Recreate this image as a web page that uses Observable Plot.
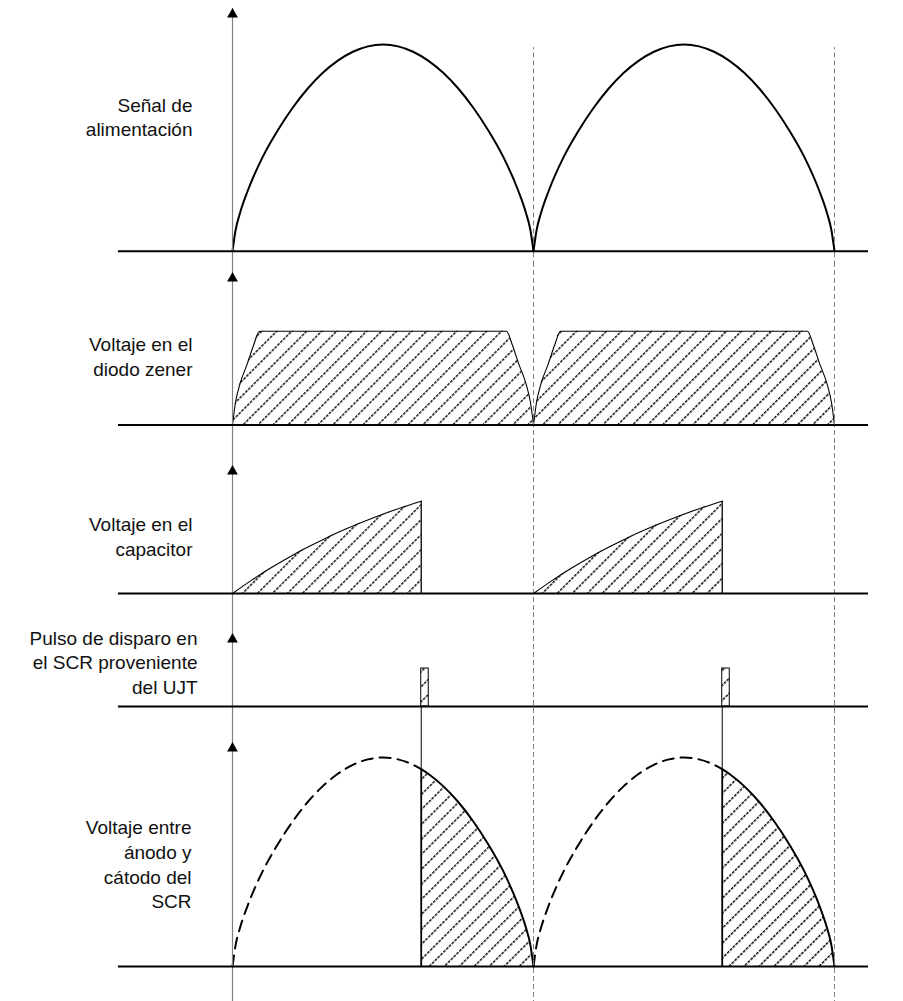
<!DOCTYPE html>
<html><head><meta charset="utf-8">
<script src="https://cdn.jsdelivr.net/npm/d3@7"></script>
<script src="https://cdn.jsdelivr.net/npm/@observablehq/plot@0.6"></script>
<style>
html,body{margin:0;padding:0;background:#fff;}
#chart svg{display:block;}
</style></head>
<body>
<svg width="0" height="0" style="position:absolute">
<defs>
<pattern id="hatch" patternUnits="userSpaceOnUse" width="10.6" height="4" patternTransform="rotate(45)">
<rect x="0" y="0" width="1.45" height="2.8" fill="#000"/>
</pattern>
</defs></svg>
<div id="chart"></div>
<script>
// ---- data (x in half-periods of the supply, y normalised per panel) ----
const cycles = [0, 1];
const labels = [
  "Señal de\nalimentación",
  "Voltaje en el\ndiodo zener",
  "Voltaje en el\ncapacitor",
  "Pulso de disparo en\nel SCR proveniente\ndel UJT",
  "Voltaje entre\nánodo y\ncátodo del\nSCR"
];
// rectified supply half-wave
const arcT = [0, 0.01, 0.025, 0.05, 0.1, 0.15, 0.2, 0.25, 0.3, 0.35, 0.4, 0.45, 0.5, 0.55, 0.6, 0.65, 0.7, 0.75, 0.8, 0.85, 0.9, 0.95, 0.975, 0.99, 1];
const arcV = [0, 0.1, 0.185, 0.29, 0.455, 0.584, 0.694, 0.787, 0.863, 0.922, 0.965, 0.991, 1, 0.991, 0.965, 0.922, 0.863, 0.787, 0.694, 0.584, 0.455, 0.29, 0.185, 0.1, 0];
// zener clamped voltage
const zenerT = [0, 0.01, 0.025, 0.05, 0.07, 0.09, 0.91, 0.93, 0.95, 0.975, 0.99, 1];
const zenerV = [0, 0.24, 0.44, 0.66, 0.85, 1, 1, 0.85, 0.66, 0.44, 0.24, 0];
// firing point
const firing = 0.627;
// capacitor charge (t as fraction of the charging interval 0..firing)
const capF = [0, 0.1, 0.2, 0.3, 0.4, 0.5, 0.6, 0.7, 0.8, 0.9, 1];
const capV = [0, 0.142, 0.273, 0.393, 0.503, 0.605, 0.698, 0.783, 0.862, 0.934, 1];
// trigger pulse
const pulseWidth = 0.025;
// SCR anode-cathode voltage: blocked part (dashed) and conducting part (hatched)
const scrOffT = [0, 0.01, 0.025, 0.05, 0.1, 0.15, 0.2, 0.25, 0.3, 0.35, 0.4, 0.45, 0.5, 0.55, 0.6, 0.627];
const scrOffV = [0, 0.1, 0.185, 0.29, 0.455, 0.584, 0.694, 0.787, 0.863, 0.922, 0.965, 0.991, 1, 0.991, 0.965, 0.944];
const scrOnT = [0.627, 0.65, 0.7, 0.75, 0.8, 0.85, 0.9, 0.95, 0.975, 0.99, 1];
const scrOnV = [0.944, 0.922, 0.863, 0.787, 0.694, 0.584, 0.455, 0.29, 0.185, 0.1, 0];

// ---- tables built from the arrays ----
const build = (T, V) => cycles.flatMap(c => T.map((t, i) => ({c, x: c + t, y: V[i]})));
const supply = build(arcT, arcV);
const zener = build(zenerT, zenerV);
const cap = build(capF.map(f => f * firing), capV);
const scrOff = build(scrOffT, scrOffV);
const scrOn = build(scrOnT, scrOnV);
const pulses = cycles.map(c => ({x1: c + firing, x2: c + firing + pulseWidth}));

const FONT = "'Liberation Sans', Arial, sans-serif";
const lineStart = -0.379, lineEnd = 2.113;

function common(p) {
  const {mt, tip, label, lx, ly, anchor} = p;
  return [
    Plot.ruleX([0], {stroke: "#808080", strokeWidth: 1.2}),
    Plot.dot([0], {x: d => d, frameAnchor: "top", dy: tip - mt + 5.8, symbol: "triangle", r: 4, fill: "#000", stroke: "none"}),
    Plot.ruleY([0], {x1: lineStart, x2: lineEnd, stroke: "#000", strokeWidth: 2}),
    Plot.text([label], {frameAnchor: "top-left", dx: lx, dy: ly - mt, textAnchor: anchor || "end", lineAnchor: "middle", lineHeight: 1.3, fontSize: 19, fill: "#111", fontFamily: FONT})
  ];
}

function panel(p, marks) {
  return Plot.plot({
    width: 903, height: p.h, marginTop: p.mt, marginBottom: 0, marginLeft: 0, marginRight: 0,
    x: {domain: [0, 2], range: [232, 834], axis: null},
    y: {domain: [0, 1], range: p.yr, axis: null},
    style: {fontFamily: FONT, background: "white"},
    marks
  });
}

const dashed = {stroke: "#808080", strokeWidth: 1, strokeDasharray: "5,3"};
const halves = [1, 2];

const p1 = {h: 262, mt: 8, yr: [250.7, 44], tip: 8, label: labels[0], lx: 192, ly: 115.5};
const p2 = {h: 183, mt: 0, yr: [162.5, 68.7], tip: 10, label: labels[1], lx: 192, ly: 93};
const p3 = {h: 167, mt: 0, yr: [148, 55.7], tip: 20, label: labels[2], lx: 192, ly: 90};
const p4 = {h: 108, mt: 0, yr: [94, 56], tip: 21, label: labels[3], lx: 197, ly: 49};
const p5 = {h: 281, mt: 0, yr: [246, 37], tip: 22, label: labels[4], lx: 191, ly: 143};

const charts = [
  panel(p1, [
    Plot.ruleX(halves, {...dashed, y1: -1, y2: 0.985, clip: true}),
    Plot.line(supply, {x: "x", y: "y", z: "c", curve: "monotone-x", stroke: "#000", strokeWidth: 2}),
    ...common(p1)
  ]),
  panel(p2, [
    Plot.areaY(zener, {x: "x", y: "y", z: "c", curve: "monotone-x", fill: "url(#hatch)"}),
    Plot.line(zener, {x: "x", y: "y", z: "c", curve: "monotone-x", stroke: "#000", strokeWidth: 1.1}),
    Plot.ruleX(halves, dashed),
    ...common(p2)
  ]),
  panel(p3, [
    Plot.areaY(cap, {x: "x", y: "y", z: "c", curve: "monotone-x", fill: "url(#hatch)"}),
    Plot.line(cap, {x: "x", y: "y", z: "c", curve: "monotone-x", stroke: "#000", strokeWidth: 1.1}),
    Plot.ruleX(cycles, {x: c => c + firing, y1: 0, y2: 1, stroke: "#000", strokeWidth: 1.3}),
    Plot.ruleX(halves, dashed),
    ...common(p3)
  ]),
  panel(p4, [
    Plot.rect(pulses, {x1: "x1", x2: "x2", y1: 0, y2: 1, fill: "url(#hatch)", stroke: "#000", strokeWidth: 1}),
    Plot.ruleX(cycles, {x: c => c + firing, y1: 0, y2: -10, clip: true, stroke: "#000", strokeWidth: 1}),
    Plot.ruleX(halves, dashed),
    ...common(p4)
  ]),
  panel(p5, [
    Plot.areaY(scrOn, {x: "x", y: "y", z: "c", curve: "monotone-x", fill: "url(#hatch)"}),
    Plot.line(scrOn, {x: "x", y: "y", z: "c", curve: "monotone-x", stroke: "#000", strokeWidth: 2}),
    Plot.line(scrOff, {x: "x", y: "y", z: "c", curve: "monotone-x", stroke: "#000", strokeWidth: 2, strokeDasharray: "11,7"}),
    Plot.ruleX(cycles, {x: c => c + firing, y1: 0.944, y2: 10, clip: true, stroke: "#000", strokeWidth: 1}),
    Plot.ruleX(cycles, {x: c => c + firing, y1: 0, y2: 0.944, stroke: "#000", strokeWidth: 1.8}),
    Plot.ruleX(halves, dashed),
    ...common(p5)
  ])
];
const root = document.getElementById("chart");
charts.forEach(c => root.appendChild(c));
</script>
</body></html>
